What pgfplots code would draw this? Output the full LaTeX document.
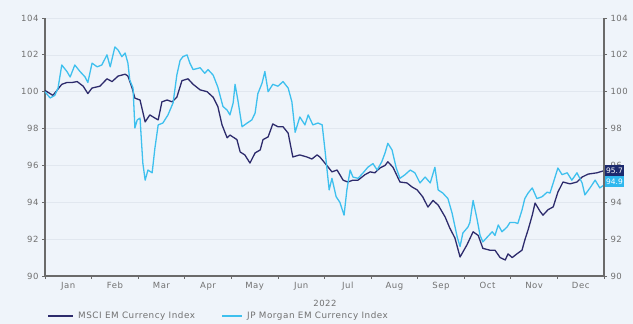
\documentclass[border=0pt]{standalone}
\usepackage{fontspec}
\setmainfont{DejaVu Sans}
\newfontfamily\lsfont[LetterSpace=6]{DejaVu Sans}
\usepackage{pgfplots}
\pgfplotsset{compat=1.18}
\definecolor{bg}{HTML}{EFF4FA}
\definecolor{gridc}{HTML}{E1E7EF}
\definecolor{axc}{HTML}{6A6A6A}
\definecolor{txt}{HTML}{707070}
\definecolor{msci}{HTML}{2D2B6C}
\definecolor{jpm}{HTML}{3EC0EE}
\definecolor{mscibox}{HTML}{1C2A6E}
\definecolor{jpmbox}{HTML}{2FB8EE}
\begin{document}
\begin{tikzpicture}[x=1pt,y=1pt]
\fill[bg] (0,0) rectangle (633,324);
\useasboundingbox (0,0) rectangle (633,324);
\pgfplotsset{
  common/.style={
    at={(45pt,48pt)}, anchor=south west, scale only axis,
    width=559pt, height=258pt,
    xmin=0, xmax=12, ymin=90, ymax=104,
    ytick={90,92,...,104},
    tick align=outside, major tick length=3pt,
    axis line style={-, draw=axc, line width=1.1pt},
    tick style={draw=axc, line width=0.8pt},
    tick label style={font=\lsfont\fontsize{8.5}{9}\selectfont, text=txt},
    /pgf/number format/assume math mode=true,
  }
}
\begin{axis}[common,
  axis x line*=bottom, axis y line*=left,
  xtick={0,1,...,12},
  x tick label as interval,
  xticklabels={Jan,Feb,Mar,Apr,May,Jun,Jul,Aug,Sep,Oct,Nov,Dec},
  ymajorgrids, major grid style={draw=gridc, line width=0.6pt},
  clip=false,
]
\addplot[msci, line width=1.3pt, line join=round] coordinates {
(0.00,100.07)(0.17,99.8)(0.36,100.4)(0.47,100.5)(0.58,100.5)(0.69,100.55)(0.82,100.3)(0.92,99.9)
(1.01,100.2)(1.18,100.3)(1.33,100.7)(1.44,100.55)(1.57,100.85)(1.72,100.95)(1.78,100.85)(1.87,100.2)
(1.93,99.65)(2.04,99.55)(2.15,98.36)(2.25,98.74)(2.36,98.57)(2.43,98.47)(2.51,99.45)(2.62,99.55)
(2.73,99.45)(2.83,99.7)(2.94,100.6)(3.07,100.7)(3.18,100.4)(3.33,100.1)(3.48,100.0)(3.61,99.7)
(3.71,99.2)(3.80,98.2)(3.91,97.5)(3.97,97.65)(4.12,97.4)(4.19,96.73)(4.29,96.57)(4.40,96.13)
(4.51,96.68)(4.62,96.84)(4.68,97.4)(4.79,97.55)(4.89,98.25)(5.00,98.1)(5.11,98.1)(5.22,97.75)
(5.32,96.46)(5.47,96.57)(5.62,96.46)(5.73,96.35)(5.84,96.57)(5.90,96.46)(6.05,96.0)(6.16,95.65)
(6.27,95.75)(6.40,95.2)(6.50,95.1)(6.61,95.2)(6.72,95.2)(6.87,95.5)(6.98,95.65)(7.08,95.6)
(7.19,95.86)(7.30,96.0)(7.36,96.2)(7.47,95.9)(7.62,95.1)(7.77,95.05)(7.88,94.83)(7.99,94.67)
(8.11,94.29)(8.22,93.74)(8.33,94.1)(8.44,93.85)(8.59,93.2)(8.69,92.6)(8.80,92.06)(8.91,91.03)
(9.06,91.7)(9.19,92.4)(9.30,92.2)(9.40,91.5)(9.55,91.4)(9.66,91.4)(9.77,91.0)(9.88,90.87)
(9.94,91.2)(10.03,91.0)(10.13,91.2)(10.24,91.4)(10.30,91.95)(10.37,92.5)(10.46,93.3)(10.52,93.96)
(10.63,93.5)(10.69,93.3)(10.80,93.6)(10.91,93.75)(11.01,94.55)(11.12,95.1)(11.27,95.0)(11.42,95.1)
(11.53,95.37)(11.66,95.53)(11.85,95.6)(11.98,95.7)
};
\addplot[jpm, line width=1.3pt, line join=round] coordinates {
(0.00,100.0)(0.11,99.66)(0.21,99.8)(0.28,100.2)(0.36,101.45)(0.47,101.1)(0.54,100.8)(0.64,101.45)
(0.75,101.1)(0.86,100.8)(0.92,100.5)(1.01,101.55)(1.12,101.35)(1.22,101.45)(1.33,102.0)(1.40,101.35)
(1.50,102.43)(1.57,102.26)(1.65,101.9)(1.72,102.1)(1.78,101.55)(1.82,100.63)(1.89,100.2)(1.93,98.03)
(1.98,98.47)(2.04,98.57)(2.10,96.13)(2.15,95.2)(2.21,95.75)(2.30,95.6)(2.36,96.95)(2.43,98.2)
(2.53,98.3)(2.64,98.74)(2.75,99.4)(2.83,100.9)(2.90,101.7)(2.96,101.9)(3.05,102.0)(3.11,101.55)
(3.18,101.2)(3.33,101.3)(3.43,101.0)(3.50,101.2)(3.61,100.9)(3.71,100.25)(3.82,99.2)(3.91,99.0)
(3.97,98.74)(4.04,99.4)(4.08,100.4)(4.14,99.55)(4.23,98.1)(4.34,98.3)(4.44,98.47)(4.51,98.84)
(4.57,99.9)(4.66,100.47)(4.72,101.1)(4.79,100.0)(4.89,100.4)(5.00,100.3)(5.11,100.55)(5.22,100.2)
(5.30,99.45)(5.37,97.8)(5.47,98.63)(5.58,98.2)(5.65,98.74)(5.75,98.2)(5.86,98.3)(5.95,98.2)
(6.01,96.84)(6.10,94.67)(6.16,95.3)(6.25,94.3)(6.33,94.0)(6.42,93.3)(6.48,94.67)(6.55,95.75)
(6.61,95.37)(6.72,95.3)(6.83,95.6)(6.93,95.9)(7.04,96.1)(7.13,95.75)(7.23,96.2)(7.30,96.68)
(7.36,97.2)(7.45,96.84)(7.54,95.86)(7.62,95.3)(7.73,95.5)(7.84,95.75)(7.94,95.6)(8.05,95.05)
(8.16,95.37)(8.27,95.05)(8.37,95.9)(8.44,94.67)(8.54,94.5)(8.65,94.2)(8.74,93.4)(8.85,92.1)
(8.91,91.6)(8.97,92.33)(9.08,92.66)(9.12,92.9)(9.19,94.1)(9.27,93.15)(9.34,92.2)(9.40,91.85)
(9.49,92.1)(9.60,92.4)(9.66,92.2)(9.73,92.77)(9.81,92.4)(9.92,92.66)(9.98,92.9)(10.09,92.9)
(10.15,92.85)(10.24,93.58)(10.30,94.2)(10.37,94.5)(10.46,94.78)(10.56,94.2)(10.67,94.3)(10.78,94.55)
(10.84,94.5)(10.91,95.05)(11.01,95.86)(11.10,95.5)(11.21,95.6)(11.31,95.2)(11.42,95.6)(11.53,95.05)
(11.59,94.4)(11.70,94.78)(11.81,95.2)(11.91,94.78)(11.98,94.9)
};
\end{axis}
\begin{axis}[common,
  axis x line=none, axis y line*=right,
  clip=false,
]
\end{axis}
\node[fill=mscibox, text=white, inner sep=1pt, minimum height=11pt, anchor=west,
      font=\fontsize{7.5}{8}\selectfont] at (605,153.5) {95.7};
\node[fill=jpmbox, text=white, inner sep=1pt, minimum height=11pt, anchor=west,
      font=\fontsize{7.5}{8}\selectfont] at (605,142.5) {94.9};
\node[text=txt, font=\lsfont\fontsize{8.5}{9}\selectfont] at (325,21) {2022};
\draw[msci, line width=1.6pt] (48,8) -- (73,8);
\node[text=txt, anchor=west, inner sep=0pt, font=\lsfont\fontsize{8.8}{10}\selectfont] at (78,8) {MSCI EM Currency Index};
\draw[jpm, line width=1.6pt] (222,8) -- (242,8);
\node[text=txt, anchor=west, inner sep=0pt, font=\lsfont\fontsize{8.8}{10}\selectfont] at (247,8) {JP Morgan EM Currency Index};
\end{tikzpicture}
\end{document}
